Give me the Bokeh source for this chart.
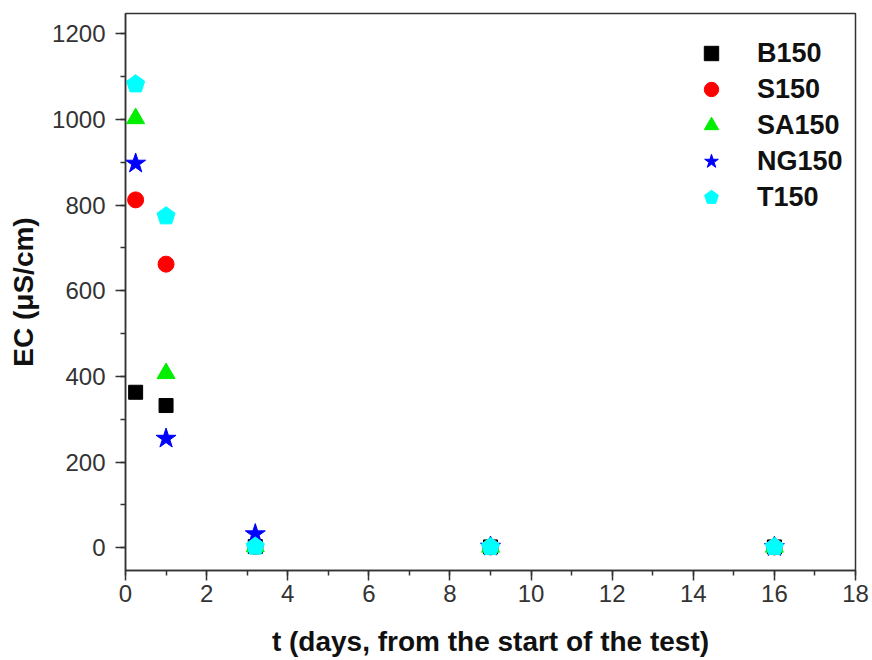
from bokeh.plotting import figure
from bokeh.models import Range1d, SingleIntervalTicker, Legend, LegendItem
from bokeh.embed import file_html
from bokeh.resources import INLINE

t = [0.25, 1, 3.2, 9, 16]
B150 = [363, 332, 3, 2, 2]
S150 = [812, 662, 3, 2, 2]
SA150 = [1002, 407, 3, 2, 2]
NG150 = [897, 255, 32, 3, 2]
T150 = [1082, 774, 3, 2, 2]

series_names = ["B150", "S150", "SA150", "NG150", "T150"]

p = figure(width=872, height=660, output_backend="svg", toolbar_location=None,
           x_range=Range1d(0, 18), y_range=Range1d(-53, 1247),
           min_border_left=125, min_border_right=17, min_border_top=13, min_border_bottom=90)
p.background_fill_color = "white"
p.border_fill_color = "white"
p.outline_line_color = "#333333"
p.outline_line_width = 1.5
p.grid.visible = False

FONT = "Liberation Sans"

for ax in (p.xaxis[0], p.yaxis[0]):
    ax.axis_line_color = "#333333"
    ax.axis_line_width = 1.5
    ax.major_tick_line_color = "#333333"
    ax.minor_tick_line_color = "#333333"
    ax.major_tick_line_width = 1.5
    ax.minor_tick_line_width = 1.5
    ax.major_tick_out = 10
    ax.major_tick_in = 0
    ax.minor_tick_out = 5
    ax.minor_tick_in = 0
    ax.major_label_text_font = FONT
    ax.major_label_text_font_size = "24px"
    ax.major_label_text_color = "#333333"
    ax.axis_label_text_font = FONT
    ax.axis_label_text_font_style = "bold"
    ax.axis_label_text_font_size = "28px"
    ax.axis_label_text_color = "#111111"

p.xaxis.ticker = SingleIntervalTicker(interval=2, num_minor_ticks=2)
p.yaxis.ticker = SingleIntervalTicker(interval=200, num_minor_ticks=2)
p.xaxis.major_label_standoff = 4
p.yaxis.major_label_standoff = 10
p.xaxis.axis_label = "t (days, from the start of the test)"
p.yaxis.axis_label = "EC (\u03bcS/cm)"
p.xaxis.axis_label_standoff = 21
p.yaxis.axis_label_standoff = 10

rB = p.scatter(t, B150, marker="square", size=14, fill_color="black", line_color="black")
rS = p.scatter(t, S150, marker="circle", size=16, fill_color="#ff0000", line_color="#ff0000")
rSA = p.scatter(t, SA150, marker="triangle", size=18, fill_color="#00ee00", line_color="#00ee00")
rNG = p.scatter(t, NG150, marker="star", size=21, fill_color="#0000ff", line_color="#0000ff")
rT = p.ngon(x=t, y=T150, radius=9.5, radius_units="screen", n=5, angle=0,
            fill_color="#00ffff", line_color="#00ffff")

renderers = [rB, rS, rSA, rNG, rT]
legend = Legend(items=[LegendItem(label=n, renderers=[r]) for n, r in zip(series_names, renderers)],
                location=(568, 355))
legend.border_line_color = None
legend.background_fill_alpha = 0
legend.label_text_font = FONT
legend.label_text_font_style = "bold"
legend.label_text_font_size = "27px"
legend.label_text_color = "#111111"
legend.glyph_width = 36
legend.glyph_height = 36
legend.label_height = 36
legend.spacing = 0
legend.padding = 10
legend.margin = 0
legend.label_standoff = 28
p.add_layout(legend)

open("out.html", "w").write(file_html(p, INLINE))
